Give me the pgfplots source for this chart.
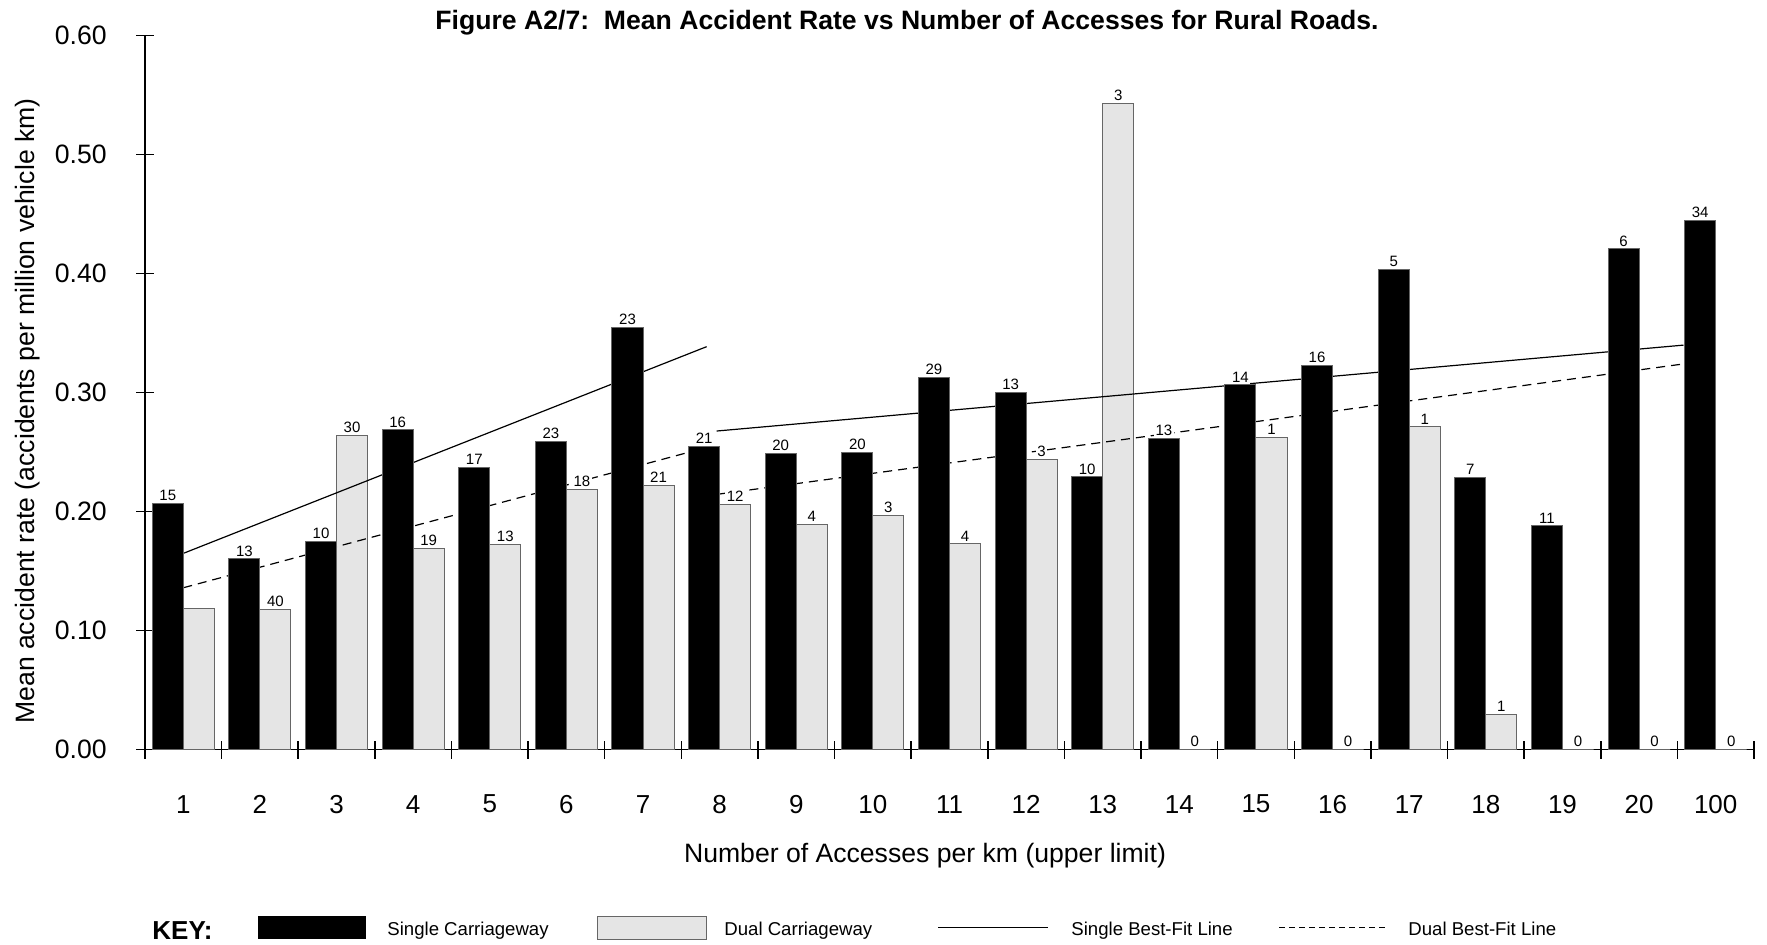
\documentclass[border=0pt]{standalone}
\usepackage{fontspec}
\setmainfont{Liberation Sans}
\usepackage{pgfplots}
\usepackage{pgfplotstable}
\pgfplotsset{compat=1.18}

\pgfplotstableread{
x   y      l
0   0.2067 15
1   0.1603 13
2   0.1750 10
3   0.2687 16
4   0.2373 17
5   0.2592 23
6   0.3546 23
7   0.2552 21
8   0.2487 20
9   0.2496 20
10  0.3126 29
11  0.3000 13
12  0.2292 10
13  0.2617 13
14  0.3065 14
15  0.3230 16
16  0.4039 5
17  0.2289 7
18  0.1880 11
19  0.4208 6
20  0.4449 34
}\singletab

\pgfplotstableread{
x   y      l
0   0.1188 {}
1   0.1180 40
2   0.2642 30
3   0.1695 19
4   0.1726 13
5   0.2185 18
6   0.2220 21
7   0.2062 12
8   0.1894 4
9   0.1970 3
10  0.1729 4
11  0.2440 3
12  0.5432 3
13  0.0000 0
14  0.2625 1
15  0.0000 0
16  0.2714 1
17  0.0300 1
18  0.0000 0
19  0.0000 0
20  0.0000 0
}\dualtab

\begin{document}
\begin{tikzpicture}
\useasboundingbox (0pt,0pt) rectangle (883.5pt,-472pt);
\begin{axis}[
  at={(72.5pt,-374.85pt)}, anchor=south west,
  scale only axis, width=804.5pt, height=357pt,
  xmin=-0.5, xmax=20.5, ymin=0, ymax=0.6,
  axis lines*=left,
  axis line style={line width=0.75pt},
  clip=false,
  /pgf/number format/assume math mode=true,
  xtick={-0.5,0.5,...,20.5}, xticklabels={},
  extra x ticks={0,1,...,20},
  extra x tick labels={1,2,3,4,5,6,7,8,9,10,11,12,13,14,15,16,17,18,19,20,100},
  extra x tick style={major tick length=0pt},
  ytick={0,0.1,0.2,0.3,0.4,0.5,0.6},
  yticklabels={0.00,0.10,0.20,0.30,0.40,0.50,0.60},
  tick align=center, major tick length=9pt,
  tick style={line width=0.75pt, black},
  xticklabel style={font=\fontsize{13}{15}\selectfont, anchor=center, inner sep=0pt, yshift=-27.2pt},
  yticklabel style={font=\fontsize{13.3}{15}\selectfont, anchor=east, inner sep=0pt, xshift=-14.5pt},
  nodes near coords style={font=\fontsize{7.5}{9}\selectfont, inner sep=0.7pt, fill=white, anchor=south, yshift=0.4pt},
]
% dual bars (no labels)
\addplot[ybar, bar width=0.405, bar shift=0.2025, fill=black!10, draw=black!60, line width=0.5pt]
  table[x=x, y=y] {\dualtab};
% best-fit lines
\addplot[black, line width=0.6pt, no markers] coordinates {(0,0.1650) (6.83,0.3387)};
\addplot[black, line width=0.6pt, no markers] coordinates {(6.96,0.2678) (19.58,0.3400)};
\addplot[black, line width=0.6pt, no markers, dash pattern=on 4.5pt off 3pt] coordinates {(0,0.1361) (6.6,0.2500)};
\addplot[black, line width=0.6pt, no markers, dash pattern=on 4.5pt off 3pt] coordinates {(7.0,0.2149) (19.57,0.3241)};
% single bars with labels
\addplot[ybar, bar width=0.405, bar shift=-0.2025, fill=black, draw=black!60, line width=0.5pt,
  nodes near coords, point meta=explicit symbolic,
  every node near coord/.append style={xshift=-7.76pt}]
  table[x=x, y=y, meta=l] {\singletab};
% dual labels on top
\addplot[ybar, bar width=0.405, bar shift=0.2025, fill=none, draw=none,
  nodes near coords, point meta=explicit symbolic,
  every node near coord/.append style={xshift=7.76pt}]
  table[x=x, y=y, meta=l] {\dualtab};
\end{axis}

% title
\node[anchor=base, font=\bfseries\fontsize{13.3}{16}\selectfont, inner sep=0pt] at (453.5pt,-14.75pt)
  {Figure A2/7:\ \ Mean Accident Rate vs Number of Accesses for Rural Roads.};
% axis labels
\node[anchor=base, font=\fontsize{13.3}{16}\selectfont, inner sep=0pt] at (462.5pt,-431.3pt)
  {Number of Accesses per km (upper limit)};
\node[anchor=base, rotate=90, font=\fontsize{13.3}{16}\selectfont, inner sep=0pt] at (17pt,-205.5pt)
  {Mean accident rate (accidents per million vehicle km)};

% key
\node[anchor=base west, font=\bfseries\fontsize{13}{15}\selectfont, inner sep=0pt] at (76pt,-469.5pt) {KEY:};
\fill[black] (129pt,-458pt) rectangle (183pt,-469.5pt);
\node[anchor=base west, font=\fontsize{9.3}{11}\selectfont, inner sep=0pt] at (193.5pt,-467.5pt) {Single Carriageway};
\filldraw[fill=black!10, draw=black!60, line width=0.5pt] (298.5pt,-458pt) rectangle (353pt,-469.5pt);
\node[anchor=base west, font=\fontsize{9.3}{11}\selectfont, inner sep=0pt] at (362pt,-467.5pt) {Dual Carriageway};
\draw[line width=0.6pt] (469pt,-463.75pt) -- (524pt,-463.75pt);
\node[anchor=base west, font=\fontsize{9.3}{11}\selectfont, inner sep=0pt] at (535.5pt,-467.5pt) {Single Best-Fit Line};
\draw[line width=0.5pt, dash pattern=on 3pt off 2pt] (639.5pt,-463.75pt) -- (694pt,-463.75pt);
\node[anchor=base west, font=\fontsize{9.3}{11}\selectfont, inner sep=0pt] at (704pt,-467.5pt) {Dual Best-Fit Line};
\end{tikzpicture}
\end{document}
